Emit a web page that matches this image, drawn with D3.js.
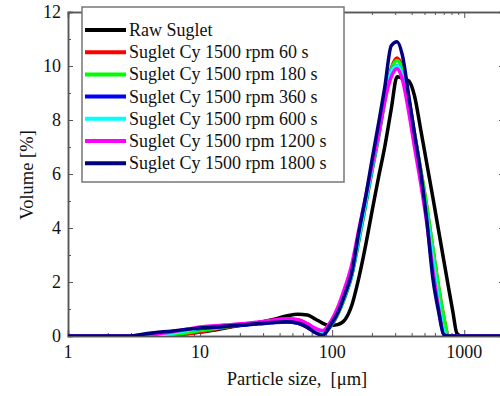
<!DOCTYPE html>
<html><head><meta charset="utf-8">
<script src="https://cdn.jsdelivr.net/npm/d3@7"></script>
<style>body{margin:0;background:#fff}svg{display:block}</style>
</head><body><div id="chart"></div>
<script>
const sizes = [1,3,3.5,4.5,6,8,10,13,17,22, 28,35,45,55,65,75,85,95,110,125, 140,160,180,200,225,250,280,310,340,380, 420,470,520,580,640,700,760,820,880,950, 2000];

const rawSuglet = [0,0,0,0.02,0.06,0.1,0.15,0.22,0.33,0.42, 0.5,0.6,0.74,0.81,0.78,0.62,0.47,0.38,0.42,0.6, 1.1,2.2,3.4,4.6,5.9,7.0,8.4,9.6,9.55,9.45, 8.9,7.6,6.4,5.1,3.9,2.8,1.8,0.9,0.1,0, 0];
const cy60 = [0,0,0,0,0.02,0.08,0.15,0.25,0.35,0.42, 0.5,0.57,0.63,0.6,0.45,0.25,0.15,0.3,0.8,1.45, 2.2,3.6,4.9,6.1,7.4,8.7,9.9,10.3,9.95,8.8, 7.5,6.1,4.8,3.2,1.8,0.7,0,0,0,0, 0];
const cy180 = [0,0,0,0.02,0.06,0.12,0.2,0.28,0.36,0.42, 0.48,0.54,0.58,0.55,0.4,0.2,0.1,0.3,0.8,1.45, 2.2,3.6,4.9,6.1,7.4,8.7,9.85,10.2,9.9,8.75, 7.5,6.1,4.8,3.2,1.8,0.7,0,0,0,0, 0];
const cy360 = [0,0,0.03,0.1,0.16,0.23,0.28,0.32,0.37,0.41, 0.45,0.49,0.52,0.47,0.32,0.12,0.04,0.3,0.85,1.5, 2.25,3.7,5.0,6.2,7.5,8.8,9.8,10.0,9.7,8.5, 7.2,5.8,4.4,2.6,1.2,0.15,0,0,0,0, 0];
const cy600 = [0,0,0,0.03,0.1,0.2,0.3,0.36,0.4,0.44, 0.48,0.52,0.55,0.5,0.36,0.18,0.1,0.35,0.85,1.5, 2.25,3.7,5.0,6.2,7.5,8.8,9.8,10.0,9.7,8.55, 7.25,5.9,4.5,2.8,1.3,0.2,0,0,0,0, 0];
const cy1200 = [0,0,0,0.05,0.15,0.25,0.33,0.38,0.42,0.46, 0.52,0.58,0.64,0.6,0.45,0.28,0.2,0.45,1.05,1.8, 2.6,4.0,5.2,6.3,7.5,8.7,9.6,9.9,9.5,8.3, 7.0,5.6,4.2,2.4,1.0,0.05,0,0,0,0, 0];
const cy1800 = [0,0,0.05,0.12,0.18,0.25,0.3,0.33,0.38,0.42, 0.46,0.5,0.53,0.48,0.32,0.12,0.03,0.35,0.85,1.55, 2.3,3.9,5.2,6.5,7.9,9.2,10.75,10.9,10.4,8.9, 7.5,6.0,4.3,2.1,0.9,0.05,0,0,0,0, 0];

const seriesNames = ["Raw Suglet","Suglet Cy 1500 rpm 60 s","Suglet Cy 1500 rpm 180 s","Suglet Cy 1500 rpm 360 s","Suglet Cy 1500 rpm 600 s","Suglet Cy 1500 rpm 1200 s","Suglet Cy 1500 rpm 1800 s"];
const seriesValues = [rawSuglet, cy60, cy180, cy360, cy600, cy1200, cy1800];
const seriesColors = ["#000000","#ff0000","#00ff00","#0000ff","#00ffff","#ff00ff","#000080"];

const xTicks = [1,10,100,1000];
const yTicks = [0,2,4,6,8,10,12];
const xLabel = "Particle size,\u00a0\u00a0[\u03bcm]";
const yLabel = "Volume [%]";

const FONT = "Liberation Serif";
const W = 500, H = 396;
const svg = d3.select("#chart").append("svg").attr("width",W).attr("height",H);
const x = d3.scaleLog().domain([1,2000]).range([68,504]);
const y = d3.scaleLinear().domain([0,12]).range([336,12]);

const axisColor = "#555";
const minorX = [];
for (let d=1; d<=1000; d*=10) for (let k=2;k<=9;k++) if (d*k<=2000) minorX.push(d*k);
const minorY = [1,3,5,7,9,11];

const g = svg.append("g");
g.append("g").attr("transform","translate(0,336)").call(d3.axisTop(x).tickValues(xTicks).tickSize(6).tickFormat(""));
g.append("g").attr("transform","translate(0,336)").call(d3.axisTop(x).tickValues(minorX).tickSize(3).tickFormat(""));
g.append("g").attr("transform","translate(0,12)").call(d3.axisBottom(x).tickValues(xTicks).tickSize(6).tickFormat(""));
g.append("g").attr("transform","translate(0,12)").call(d3.axisBottom(x).tickValues(minorX).tickSize(3).tickFormat(""));
g.append("g").attr("transform","translate(68,0)").call(d3.axisRight(y).tickValues(yTicks).tickSize(5).tickFormat(""));
g.append("g").attr("transform","translate(68,0)").call(d3.axisRight(y).tickValues(minorY).tickSize(3).tickFormat(""));
g.append("g").attr("transform","translate(504,0)").call(d3.axisLeft(y).tickValues(yTicks).tickSize(5).tickFormat(""));
g.append("g").attr("transform","translate(504,0)").call(d3.axisLeft(y).tickValues(minorY).tickSize(3).tickFormat(""));
g.selectAll(".domain").attr("stroke",axisColor).attr("stroke-width",1.5);
g.selectAll(".tick line").attr("stroke",axisColor).attr("stroke-width",1);

svg.append("g").selectAll("text").data(xTicks).join("text")
  .attr("x",d=>x(d)).attr("y",358).attr("text-anchor","middle").attr("font-family",FONT)
  .attr("font-size",18).attr("fill","#111").text(d=>d);
svg.append("g").selectAll("text").data(yTicks).join("text")
  .attr("x",61).attr("y",d=>y(d)+6).attr("text-anchor","end").attr("font-family",FONT)
  .attr("font-size",18).attr("fill","#111").text(d=>d);

svg.append("text").attr("x",297).attr("y",385).attr("text-anchor","middle").attr("font-family",FONT).attr("font-size",18.5).attr("fill","#111").text(xLabel);
svg.append("text").attr("transform","translate(33,175) rotate(-90)").attr("text-anchor","middle").attr("font-family",FONT).attr("font-size",18.5).attr("fill","#111").text(yLabel);

const line = d3.line().x((d,i)=>x(sizes[i])).y(d=>y(d)).curve(d3.curveMonotoneX);
svg.append("defs").append("clipPath").attr("id","clip").append("rect").attr("x",68).attr("y",12).attr("width",436).attr("height",324);
const lg = svg.append("g").attr("clip-path","url(#clip)");
seriesValues.forEach((vals,i)=>{
  lg.append("path").datum(vals).attr("d",line).attr("fill","none")
    .attr("stroke",seriesColors[i]).attr("stroke-width",3.5).attr("stroke-linejoin","round");
});

const leg = svg.append("g");
leg.append("rect").attr("x",82).attr("y",7).attr("width",262).attr("height",175)
  .attr("fill","#fff").attr("stroke","#777").attr("stroke-width",1.5);
seriesNames.forEach((n,i)=>{
  const yy = 30 + i*22.2;
  leg.append("line").attr("x1",85).attr("x2",126).attr("y1",yy).attr("y2",yy)
    .attr("stroke",seriesColors[i]).attr("stroke-width",4);
  leg.append("text").attr("x",129).attr("y",yy+6).attr("font-family",FONT).attr("font-size",18).attr("fill","#111").text(n);
});
</script></body></html>
